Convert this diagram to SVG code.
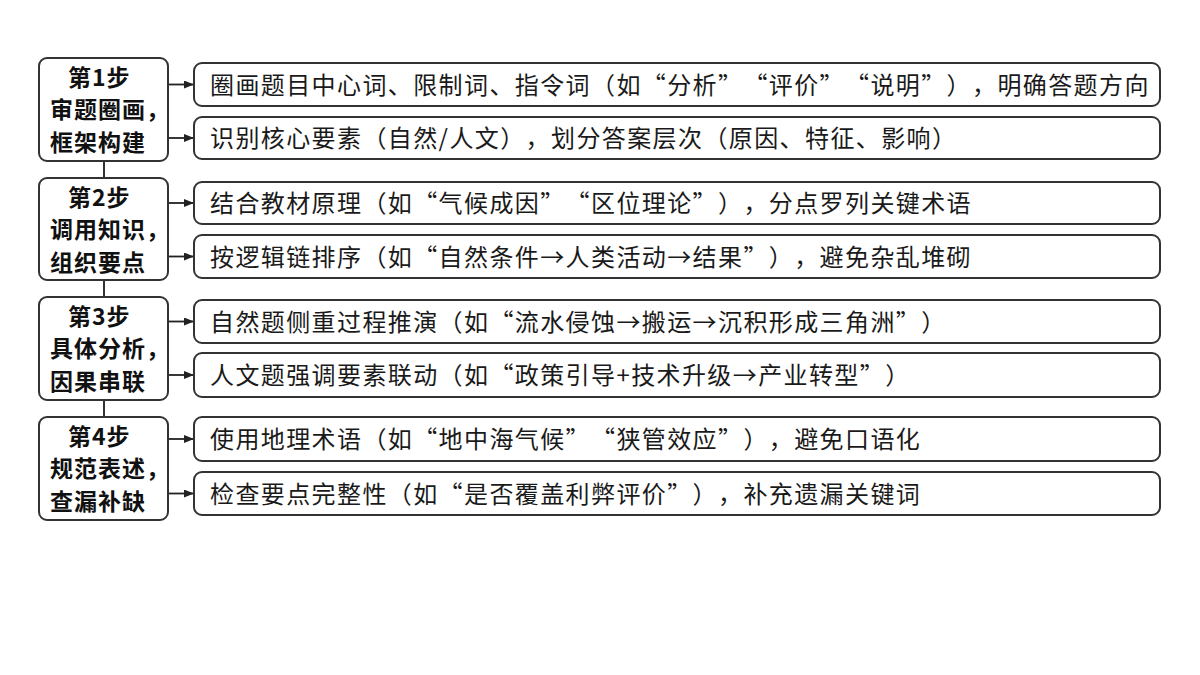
<svg xmlns="http://www.w3.org/2000/svg" width="1200" height="675" viewBox="0 0 1200 675">
<defs>
<marker id="ah" markerWidth="10" markerHeight="8" refX="10" refY="4" orient="auto" markerUnits="userSpaceOnUse">
<path d="M0,0 L10,4 L0,8 Z" fill="#222"/>
</marker>
<style>
.box{fill:#fff;stroke:#333;stroke-width:2}
.st{font-family:"Noto Sans CJK SC","Noto Sans CJK TC",sans-serif;font-size:23px;font-weight:bold;fill:#111;letter-spacing:1px}
.it{font-family:"Noto Sans CJK SC","Noto Sans CJK TC",sans-serif;font-size:24px;fill:#1a1a1a;letter-spacing:1.4px;font-feature-settings:"fwid";text-spacing-trim:space-all}
.h{font-feature-settings:normal}
.ln{stroke:#333;stroke-width:2;fill:none}
.ar{stroke:#222;stroke-width:1.8;fill:none;marker-end:url(#ah)}
</style>
</defs>
<rect width="1200" height="675" fill="#fff"/>
<g id="connectors">
<line class="ln" x1="104" y1="161" x2="104" y2="178"/>
<line class="ln" x1="104" y1="280" x2="104" y2="297"/>
<line class="ln" x1="104" y1="400" x2="104" y2="417"/>
<line class="ar" x1="168" y1="84.5" x2="194" y2="84.5"/>
<line class="ar" x1="168" y1="138" x2="194" y2="138"/>
<line class="ar" x1="168" y1="203" x2="194" y2="203"/>
<line class="ar" x1="168" y1="256.5" x2="194" y2="256.5"/>
<line class="ar" x1="168" y1="321.5" x2="194" y2="321.5"/>
<line class="ar" x1="168" y1="375" x2="194" y2="375"/>
<line class="ar" x1="168" y1="439" x2="194" y2="439"/>
<line class="ar" x1="168" y1="493.5" x2="194" y2="493.5"/>
</g>
<g id="step1">
<rect class="box" x="39" y="58" width="129" height="103" rx="8"/>
<text class="st" x="68" y="85.7">第1步</text>
<text class="st" x="50" y="118.2">审题圈画，</text>
<text class="st" x="50" y="150.7">框架构建</text>
</g>
<g id="step2">
<rect class="box" x="39" y="178" width="129" height="102" rx="8"/>
<text class="st" x="68" y="205.7">第2步</text>
<text class="st" x="50" y="238.2">调用知识，</text>
<text class="st" x="50" y="270.7">组织要点</text>
</g>
<g id="step3">
<rect class="box" x="39" y="297" width="129" height="103" rx="8"/>
<text class="st" x="68" y="324.7">第3步</text>
<text class="st" x="50" y="357.2">具体分析，</text>
<text class="st" x="50" y="389.7">因果串联</text>
</g>
<g id="step4">
<rect class="box" x="39" y="417" width="129" height="103" rx="8"/>
<text class="st" x="68" y="444.7">第4步</text>
<text class="st" x="50" y="477.2">规范表述，</text>
<text class="st" x="50" y="509.7">查漏补缺</text>
</g>
<g id="item1">
<rect class="box" x="194" y="63" width="966" height="43" rx="8"/>
<text class="it" x="210" y="93.5">圈画题目中心词、限制词、指令词（如“分析”“评价”“说明”），明确答题方向</text>
</g>
<g id="item2">
<rect class="box" x="194" y="117" width="966" height="42" rx="8"/>
<text class="it" x="210" y="147">识别核心要素（自然<tspan class="h">/</tspan>人文），划分答案层次（原因、特征、影响）</text>
</g>
<g id="item3">
<rect class="box" x="194" y="182" width="966" height="42" rx="8"/>
<text class="it" x="210" y="212">结合教材原理（如“气候成因”“区位理论”），分点罗列关键术语</text>
</g>
<g id="item4">
<rect class="box" x="194" y="235" width="966" height="43" rx="8"/>
<text class="it" x="210" y="265.5">按逻辑链排序（如“自然条件→人类活动→结果”），避免杂乱堆砌</text>
</g>
<g id="item5">
<rect class="box" x="194" y="300" width="966" height="43" rx="8"/>
<text class="it" x="210" y="330.5">自然题侧重过程推演（如“流水侵蚀→搬运→沉积形成三角洲”）</text>
</g>
<g id="item6">
<rect class="box" x="194" y="353" width="966" height="44" rx="8"/>
<text class="it" x="210" y="384">人文题强调要素联动（如“政策引导<tspan class="h">+</tspan>技术升级→产业转型”）</text>
</g>
<g id="item7">
<rect class="box" x="194" y="417" width="966" height="44" rx="8"/>
<text class="it" x="210" y="448">使用地理术语（如“地中海气候”“狭管效应”），避免口语化</text>
</g>
<g id="item8">
<rect class="box" x="194" y="472" width="966" height="43" rx="8"/>
<text class="it" x="210" y="502.5">检查要点完整性（如“是否覆盖利弊评价”），补充遗漏关键词</text>
</g>
</svg>
